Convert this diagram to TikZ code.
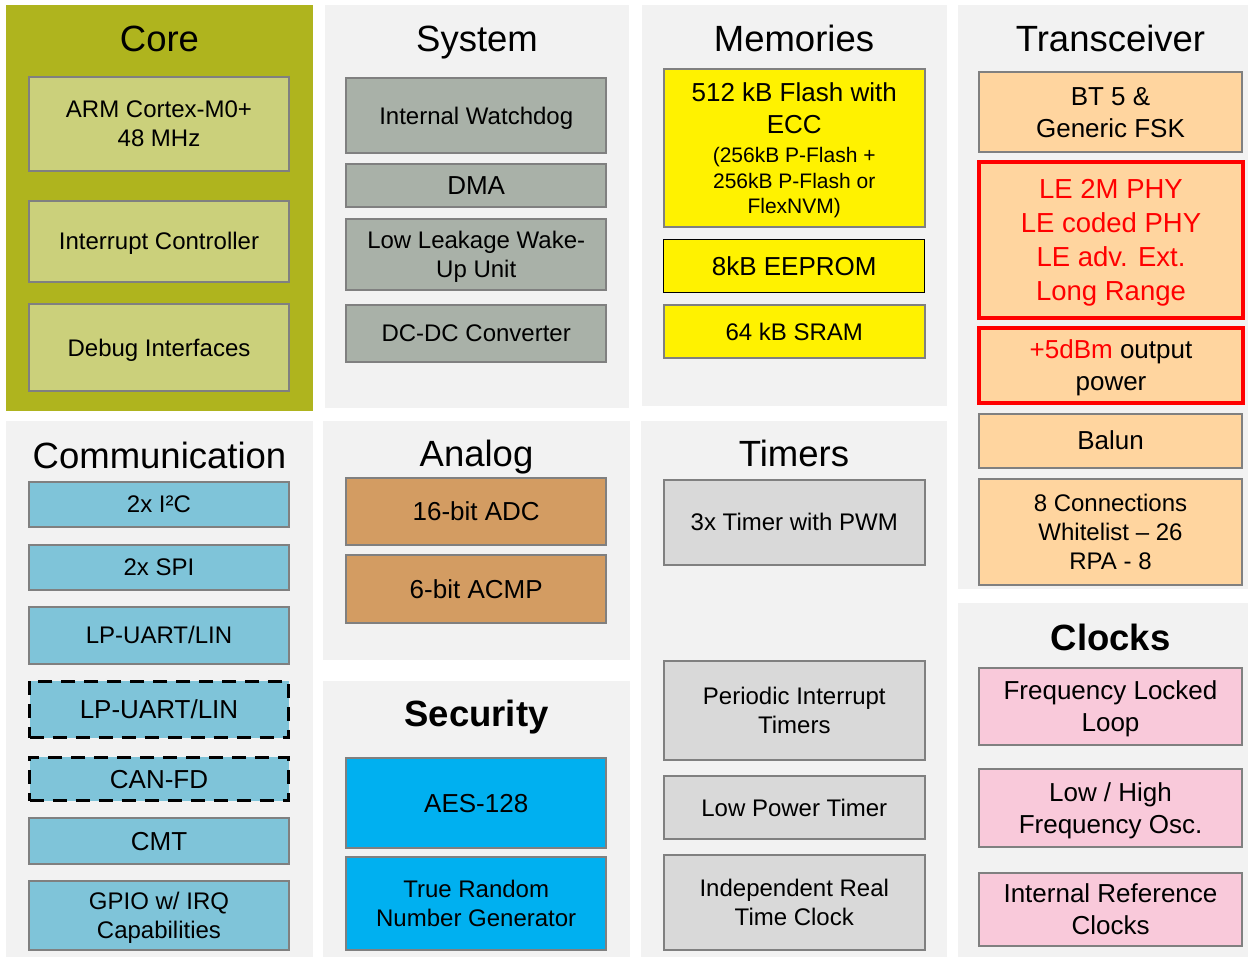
\documentclass[tikz,border=0pt]{standalone}
\usepackage{fontspec}
\setmainfont{Liberation Sans}
\usetikzlibrary{positioning}
\definecolor{coreolive}{HTML}{AFB41E}
\definecolor{corefill}{HTML}{CBD07B}
\definecolor{panelgray}{HTML}{F2F2F2}
\definecolor{sysfill}{HTML}{A9B1A8}
\definecolor{rffill}{HTML}{FFD59F}
\definecolor{commfill}{HTML}{7FC4D9}
\definecolor{anafill}{HTML}{D39C62}
\definecolor{secfill}{HTML}{00B0F0}
\definecolor{tmrfill}{HTML}{D9D9D9}
\definecolor{clkfill}{HTML}{F9C9DA}
\definecolor{edgegray}{HTML}{808080}
\newcommand{\flashnote}{\fontsize{21}{25.5}\selectfont}
\tikzset{
  plainblk/.style={
    draw=edgegray,
    line width=2pt,
    minimum width=260pt,
    text width=250pt,
    inner sep=1pt,
    align=flush center,
    font=\fontsize{24}{29}\selectfont
  },
  blk/.style={
    plainblk,
    execute at begin node={\rule{0pt}{0.905em}},
    execute at end node={\rule[-0.212em]{0pt}{0pt}}
  },
  bigtxt/.style={font=\fontsize{26}{32}\selectfont},
  corebox/.style={blk, fill=corefill},
  sysbox/.style={blk, fill=sysfill},
  membox/.style={blk, fill=yellow, minimum width=261pt},
  flashbox/.style={plainblk, bigtxt, fill=yellow, minimum width=261pt},
  rfbox/.style={blk, fill=rffill, minimum width=262.4pt},
  hotbox/.style={blk, fill=rffill, draw=red, line width=4pt, minimum width=263.5pt},
  commbox/.style={blk, fill=commfill},
  optbox/.style={blk, fill=commfill, draw=black, line width=3pt, dash pattern=on 14pt off 9pt, minimum width=259pt},
  anabox/.style={blk, fill=anafill},
  secbox/.style={blk, fill=secfill},
  tmrbox/.style={blk, fill=tmrfill, minimum width=261pt},
  clkbox/.style={blk, fill=clkfill, minimum width=262.4pt},
  paneltitle/.style={anchor=base, inner sep=0pt, font=\fontsize{36.5}{42}\selectfont},
  boldtitle/.style={paneltitle, font=\fontsize{36.5}{42}\selectfont\bfseries}
}
\begin{document}
\begin{tikzpicture}[x=1pt,y=-1pt]
\useasboundingbox (0,0) rectangle (1248,957);
\fill[coreolive] (6,5) rectangle (313,411);
\fill[panelgray] (325,5) rectangle (629,408);
\fill[panelgray] (642,5) rectangle (947,406);
\fill[panelgray] (958,5) rectangle (1248,589);
\fill[panelgray] (6,421) rectangle (313,957);
\fill[panelgray] (323,421) rectangle (630,660);
\fill[panelgray] (323,681) rectangle (630,957);
\fill[panelgray] (641,421) rectangle (947,957);
\fill[panelgray] (958,603) rectangle (1248,957);

\node[paneltitle] (tcore) at (159.5,52) {Core};
\node[corebox, minimum height=93.7pt] (arm) at (159,123.9) {ARM Cortex-M0+\\48 MHz};
\node[corebox, minimum height=80.7pt] (intc) at (159,241.3) {Interrupt Controller};
\node[corebox, minimum height=87.3pt] (dbg) at (159,347.7) {Debug Interfaces};

\node[paneltitle] (tsys) at (477,52) {System};
\node[sysbox, minimum height=75pt] (wdog) at (476.2,115.8) {Internal Watchdog};
\node[sysbox, bigtxt, minimum height=43.6pt] (dma) at (476.2,185.5) {DMA};
\node[sysbox, minimum height=71.3pt] (llwu) at (476.2,254.3) {Low Leakage Wake-\\Up Unit};
\node[sysbox, minimum height=56.4pt] (dcdc) at (476.2,333.5) {DC-DC Converter};

\node[paneltitle] (tmem) at (794,52) {Memories};
\node[flashbox, minimum height=157.4pt] (flash) at (794.2,148) {\rule{0pt}{0.905em}512 kB Flash with\\ECC\par\vspace{3.5pt}{\flashnote (256kB P-Flash +\\256kB P-Flash or\\FlexNVM)\rule[-0.212em]{0pt}{0pt}\par}};
\node[membox, bigtxt, draw=black, line width=1pt, minimum height=53.3pt] (eeprom) at (794.2,266.2) {8kB EEPROM};
\node[membox, minimum height=52.7pt] (sram) at (794.2,331.7) {64 kB SRAM};

\node[paneltitle] (trf) at (1110.5,52) {Transceiver};
\node[rfbox, bigtxt, minimum height=80pt] (bt) at (1110.5,112) {BT 5 \&\\Generic FSK};
\node[hotbox, text=red, font=\fontsize{27.5}{34}\selectfont, minimum height=156.3pt] (lephy) at (1111,239.7) {LE 2M PHY\\LE coded PHY\\LE adv. Ext.\\Long Range};
\node[hotbox, bigtxt, minimum height=75pt] (pwr) at (1111,365.8) {{\color{red}+5dBm} output\\power};
\node[rfbox, bigtxt, minimum height=53.7pt] (balun) at (1110.5,440.9) {Balun};
\node[rfbox, minimum height=106.9pt] (conn) at (1110.5,532) {8 Connections\\Whitelist -- 26\\RPA - 8};

\node[paneltitle] (tcomm) at (159.5,468) {Communication};
\node[commbox, minimum height=45.4pt] (iic) at (159,504.4) {2x I²C};
\node[commbox, minimum height=45.1pt] (spi) at (159,567.2) {2x SPI};
\node[commbox, minimum height=56.5pt] (uarta) at (159,635.5) {LP-UART/LIN};
\node[optbox, bigtxt, minimum height=56.8pt] (uartb) at (159,709.4) {LP-UART/LIN};
\node[optbox, bigtxt, minimum height=43.7pt] (canfd) at (159,779) {CAN-FD};
\node[commbox, bigtxt, minimum height=46.1pt] (cmt) at (159,841.2) {CMT};
\node[commbox, minimum height=68.9pt] (gpio) at (159,915.6) {GPIO w/ IRQ\\Capabilities};

\node[paneltitle] (tana) at (476.5,467) {Analog};
\node[anabox, bigtxt, minimum height=67.2pt] (adc) at (476.2,511.1) {16-bit ADC};
\node[anabox, bigtxt, minimum height=67.5pt] (acmp) at (476.2,589.2) {6-bit ACMP};

\node[boldtitle] (tsec) at (476.5,726) {Security};
\node[secbox, bigtxt, minimum height=89.7pt] (aes) at (476.2,803.2) {AES-128};
\node[secbox, minimum height=93.1pt] (trng) at (476.2,903.5) {True Random\\Number Generator};

\node[paneltitle] (ttmr) at (794,467) {Timers};
\node[tmrbox, minimum height=85pt] (pwm) at (794.3,522.5) {3x Timer with PWM};
\node[tmrbox, minimum height=99.3pt] (pit) at (794.3,710.2) {Periodic Interrupt\\Timers};
\node[tmrbox, minimum height=63pt] (lptmr) at (794.3,807.8) {Low Power Timer};
\node[tmrbox, minimum height=95pt] (rtc) at (794.3,902.5) {Independent Real\\Time Clock};

\node[boldtitle] (tclk) at (1110.5,650) {Clocks};
\node[clkbox, bigtxt, minimum height=77pt] (fll) at (1110.5,706.5) {Frequency Locked\\Loop};
\node[clkbox, bigtxt, minimum height=78pt] (osc) at (1110.5,808) {Low / High\\Frequency Osc.};
\node[clkbox, bigtxt, minimum height=73pt] (irc) at (1110.5,909.5) {Internal Reference\\Clocks};
\end{tikzpicture}
\end{document}
